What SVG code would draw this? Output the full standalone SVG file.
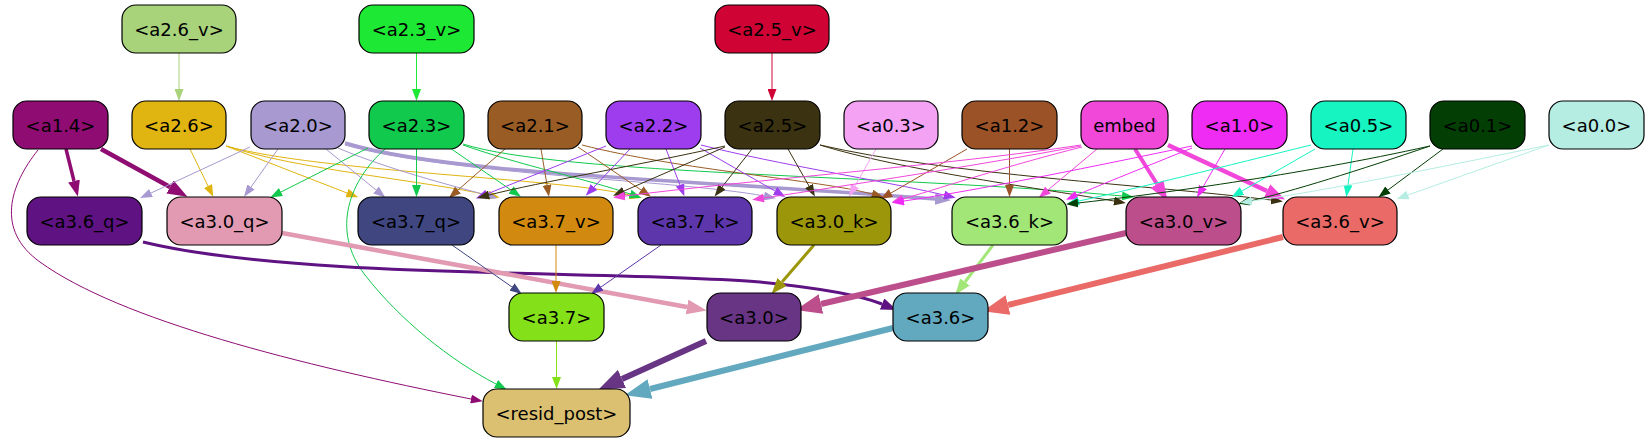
<svg xmlns="http://www.w3.org/2000/svg" width="1648" height="443" viewBox="0 0 1648 443">
<style>
.n rect{stroke:#000;stroke-width:1.2}
.n text{font-family:"DejaVu Sans","Liberation Sans",sans-serif;font-size:18px;text-anchor:middle;fill:#000}
.e path{fill:none}
</style>
<defs>
<marker id="t-a26v" viewBox="0 0 10 10" refX="0" refY="5" markerWidth="12" markerHeight="9" markerUnits="userSpaceOnUse" orient="auto" preserveAspectRatio="none"><path d="M0,0L10,5L0,10z" fill="#a8d37b"/></marker>
<marker id="t-a23v" viewBox="0 0 10 10" refX="0" refY="5" markerWidth="12" markerHeight="9" markerUnits="userSpaceOnUse" orient="auto" preserveAspectRatio="none"><path d="M0,0L10,5L0,10z" fill="#1de834"/></marker>
<marker id="t-a25v" viewBox="0 0 10 10" refX="0" refY="5" markerWidth="12" markerHeight="9" markerUnits="userSpaceOnUse" orient="auto" preserveAspectRatio="none"><path d="M0,0L10,5L0,10z" fill="#cf0434"/></marker>
<marker id="t-a14" viewBox="0 0 10 10" refX="0" refY="5" markerWidth="12" markerHeight="9" markerUnits="userSpaceOnUse" orient="auto" preserveAspectRatio="none"><path d="M0,0L10,5L0,10z" fill="#8f0d73"/></marker>
<marker id="t-a26" viewBox="0 0 10 10" refX="0" refY="5" markerWidth="12" markerHeight="9" markerUnits="userSpaceOnUse" orient="auto" preserveAspectRatio="none"><path d="M0,0L10,5L0,10z" fill="#e0b511"/></marker>
<marker id="t-a20" viewBox="0 0 10 10" refX="0" refY="5" markerWidth="12" markerHeight="9" markerUnits="userSpaceOnUse" orient="auto" preserveAspectRatio="none"><path d="M0,0L10,5L0,10z" fill="#a899d1"/></marker>
<marker id="t-a23" viewBox="0 0 10 10" refX="0" refY="5" markerWidth="12" markerHeight="9" markerUnits="userSpaceOnUse" orient="auto" preserveAspectRatio="none"><path d="M0,0L10,5L0,10z" fill="#11c94c"/></marker>
<marker id="t-a21" viewBox="0 0 10 10" refX="0" refY="5" markerWidth="12" markerHeight="9" markerUnits="userSpaceOnUse" orient="auto" preserveAspectRatio="none"><path d="M0,0L10,5L0,10z" fill="#9a5c25"/></marker>
<marker id="t-a22" viewBox="0 0 10 10" refX="0" refY="5" markerWidth="12" markerHeight="9" markerUnits="userSpaceOnUse" orient="auto" preserveAspectRatio="none"><path d="M0,0L10,5L0,10z" fill="#9d3dee"/></marker>
<marker id="t-a25" viewBox="0 0 10 10" refX="0" refY="5" markerWidth="12" markerHeight="9" markerUnits="userSpaceOnUse" orient="auto" preserveAspectRatio="none"><path d="M0,0L10,5L0,10z" fill="#3b3211"/></marker>
<marker id="t-a03" viewBox="0 0 10 10" refX="0" refY="5" markerWidth="12" markerHeight="9" markerUnits="userSpaceOnUse" orient="auto" preserveAspectRatio="none"><path d="M0,0L10,5L0,10z" fill="#f3a2f4"/></marker>
<marker id="t-a12" viewBox="0 0 10 10" refX="0" refY="5" markerWidth="12" markerHeight="9" markerUnits="userSpaceOnUse" orient="auto" preserveAspectRatio="none"><path d="M0,0L10,5L0,10z" fill="#9c5227"/></marker>
<marker id="t-emb" viewBox="0 0 10 10" refX="0" refY="5" markerWidth="12" markerHeight="9" markerUnits="userSpaceOnUse" orient="auto" preserveAspectRatio="none"><path d="M0,0L10,5L0,10z" fill="#f148da"/></marker>
<marker id="t-a10" viewBox="0 0 10 10" refX="0" refY="5" markerWidth="12" markerHeight="9" markerUnits="userSpaceOnUse" orient="auto" preserveAspectRatio="none"><path d="M0,0L10,5L0,10z" fill="#ef2cf4"/></marker>
<marker id="t-a05" viewBox="0 0 10 10" refX="0" refY="5" markerWidth="12" markerHeight="9" markerUnits="userSpaceOnUse" orient="auto" preserveAspectRatio="none"><path d="M0,0L10,5L0,10z" fill="#16f4c1"/></marker>
<marker id="t-a01" viewBox="0 0 10 10" refX="0" refY="5" markerWidth="12" markerHeight="9" markerUnits="userSpaceOnUse" orient="auto" preserveAspectRatio="none"><path d="M0,0L10,5L0,10z" fill="#033f04"/></marker>
<marker id="t-a00" viewBox="0 0 10 10" refX="0" refY="5" markerWidth="12" markerHeight="9" markerUnits="userSpaceOnUse" orient="auto" preserveAspectRatio="none"><path d="M0,0L10,5L0,10z" fill="#b5ede2"/></marker>
<marker id="t-q37" viewBox="0 0 10 10" refX="0" refY="5" markerWidth="12" markerHeight="9" markerUnits="userSpaceOnUse" orient="auto" preserveAspectRatio="none"><path d="M0,0L10,5L0,10z" fill="#3f4680"/></marker>
<marker id="t-v37" viewBox="0 0 10 10" refX="0" refY="5" markerWidth="12" markerHeight="9" markerUnits="userSpaceOnUse" orient="auto" preserveAspectRatio="none"><path d="M0,0L10,5L0,10z" fill="#d18a0f"/></marker>
<marker id="t-k37" viewBox="0 0 10 10" refX="0" refY="5" markerWidth="12" markerHeight="9" markerUnits="userSpaceOnUse" orient="auto" preserveAspectRatio="none"><path d="M0,0L10,5L0,10z" fill="#5c36aa"/></marker>
<marker id="t-n37" viewBox="0 0 10 10" refX="0" refY="5" markerWidth="12" markerHeight="9" markerUnits="userSpaceOnUse" orient="auto" preserveAspectRatio="none"><path d="M0,0L10,5L0,10z" fill="#84e119"/></marker>
<marker id="m-a14" viewBox="0 0 10 10" refX="0" refY="5" markerWidth="16" markerHeight="12" markerUnits="userSpaceOnUse" orient="auto" preserveAspectRatio="none"><path d="M0,0L10,5L0,10z" fill="#8f0d73"/></marker>
<marker id="m-a20" viewBox="0 0 10 10" refX="0" refY="5" markerWidth="16" markerHeight="12" markerUnits="userSpaceOnUse" orient="auto" preserveAspectRatio="none"><path d="M0,0L10,5L0,10z" fill="#a899d1"/></marker>
<marker id="m-q36" viewBox="0 0 10 10" refX="0" refY="5" markerWidth="16" markerHeight="12" markerUnits="userSpaceOnUse" orient="auto" preserveAspectRatio="none"><path d="M0,0L10,5L0,10z" fill="#5f1282"/></marker>
<marker id="m-k30" viewBox="0 0 10 10" refX="0" refY="5" markerWidth="16" markerHeight="12" markerUnits="userSpaceOnUse" orient="auto" preserveAspectRatio="none"><path d="M0,0L10,5L0,10z" fill="#9b960a"/></marker>
<marker id="m-k36" viewBox="0 0 10 10" refX="0" refY="5" markerWidth="16" markerHeight="12" markerUnits="userSpaceOnUse" orient="auto" preserveAspectRatio="none"><path d="M0,0L10,5L0,10z" fill="#a1e677"/></marker>
<marker id="h-a14" viewBox="0 0 10 10" refX="0" refY="5" markerWidth="20" markerHeight="15" markerUnits="userSpaceOnUse" orient="auto" preserveAspectRatio="none"><path d="M0,0L10,5L0,10z" fill="#8f0d73"/></marker>
<marker id="h-emb" viewBox="0 0 10 10" refX="0" refY="5" markerWidth="20" markerHeight="15" markerUnits="userSpaceOnUse" orient="auto" preserveAspectRatio="none"><path d="M0,0L10,5L0,10z" fill="#f148da"/></marker>
<marker id="h-q30" viewBox="0 0 10 10" refX="0" refY="5" markerWidth="20" markerHeight="15" markerUnits="userSpaceOnUse" orient="auto" preserveAspectRatio="none"><path d="M0,0L10,5L0,10z" fill="#e19ab1"/></marker>
<marker id="x-v30" viewBox="0 0 10 10" refX="0" refY="5" markerWidth="26" markerHeight="20" markerUnits="userSpaceOnUse" orient="auto" preserveAspectRatio="none"><path d="M0,0L10,5L0,10z" fill="#bb4e8b"/></marker>
<marker id="x-v36" viewBox="0 0 10 10" refX="0" refY="5" markerWidth="26" markerHeight="20" markerUnits="userSpaceOnUse" orient="auto" preserveAspectRatio="none"><path d="M0,0L10,5L0,10z" fill="#e96a66"/></marker>
<marker id="x-n30" viewBox="0 0 10 10" refX="0" refY="5" markerWidth="26" markerHeight="20" markerUnits="userSpaceOnUse" orient="auto" preserveAspectRatio="none"><path d="M0,0L10,5L0,10z" fill="#683584"/></marker>
<marker id="x-n36" viewBox="0 0 10 10" refX="0" refY="5" markerWidth="26" markerHeight="20" markerUnits="userSpaceOnUse" orient="auto" preserveAspectRatio="none"><path d="M0,0L10,5L0,10z" fill="#62a9bf"/></marker>
</defs>
<rect width="1648" height="443" fill="#fff"/>
<g id="connectors" class="e">
<path d="M179,53L179,89" stroke="#a8d37b" marker-end="url(#t-a26v)"/>
<path d="M416.5,53L416.5,89" stroke="#1de834" marker-end="url(#t-a23v)"/>
<path d="M772,53L772,89" stroke="#cf0434" marker-end="url(#t-a25v)"/>
<path d="M66,149L74,181" stroke="#8f0d73" stroke-width="3.5" marker-end="url(#m-a14)"/>
<path d="M101,149L170,187" stroke="#8f0d73" stroke-width="4.5" marker-end="url(#h-a14)"/>
<path d="M38,150C10,185 -5,230 40,262C120,320 300,365 471,399" stroke="#8f0d73" marker-end="url(#t-a14)"/>
<path d="M190,149L208,186" stroke="#e0b511" marker-end="url(#t-a26)"/>
<path d="M226,146L347,193" stroke="#e0b511" marker-end="url(#t-a26)"/>
<path d="M226,146C300,170 420,180 488,195" stroke="#e0b511" marker-end="url(#t-a26)"/>
<path d="M226,146C320,172 560,178 630,195" stroke="#e0b511" marker-end="url(#t-a26)"/>
<path d="M250,147L151,193" stroke="#a899d1" marker-end="url(#t-a20)"/>
<path d="M278,149L251,187" stroke="#a899d1" marker-end="url(#t-a20)"/>
<path d="M326,149L376,190" stroke="#a899d1" marker-end="url(#t-a20)"/>
<path d="M338,148C390,170 450,185 486,195" stroke="#a899d1" marker-end="url(#t-a20)"/>
<path d="M345,145C450,175 680,180 764,196" stroke="#a899d1" marker-end="url(#t-a20)"/>
<path d="M345,143C450,175 700,180 935,199" stroke="#a899d1" stroke-width="3.5" marker-end="url(#m-a20)"/>
<path d="M368,148L281,192" stroke="#11c94c" marker-end="url(#t-a23)"/>
<path d="M416.5,149L416.5,185" stroke="#11c94c" marker-end="url(#t-a23)"/>
<path d="M385,149C350,180 330,230 365,275C400,320 450,360 496,384" stroke="#11c94c" marker-end="url(#t-a23)"/>
<path d="M450,148L511,190" stroke="#11c94c" marker-end="url(#t-a23)"/>
<path d="M463,145C520,165 590,180 630,194" stroke="#11c94c" marker-end="url(#t-a23)"/>
<path d="M463,144C560,175 900,175 1122,196" stroke="#11c94c" marker-end="url(#t-a23)"/>
<path d="M505,149L458,190" stroke="#9a5c25" marker-end="url(#t-a21)"/>
<path d="M541,149L547,185" stroke="#9a5c25" marker-end="url(#t-a21)"/>
<path d="M578,147L641,190" stroke="#9a5c25" marker-end="url(#t-a21)"/>
<path d="M582,145C680,170 820,180 872,194" stroke="#9a5c25" marker-end="url(#t-a21)"/>
<path d="M606,146L487,194" stroke="#9d3dee" marker-end="url(#t-a22)"/>
<path d="M630,149L594,187" stroke="#9d3dee" marker-end="url(#t-a22)"/>
<path d="M666,149L680,185" stroke="#9d3dee" marker-end="url(#t-a22)"/>
<path d="M700,148L775,191" stroke="#9d3dee" marker-end="url(#t-a22)"/>
<path d="M701,145C780,165 880,180 944,195" stroke="#9d3dee" marker-end="url(#t-a22)"/>
<path d="M725,146C640,165 540,182 489,195" stroke="#3b3211" marker-end="url(#t-a25)"/>
<path d="M725,147L624,191" stroke="#3b3211" marker-end="url(#t-a25)"/>
<path d="M752,149L722,187" stroke="#3b3211" marker-end="url(#t-a25)"/>
<path d="M788,149L809,186" stroke="#3b3211" marker-end="url(#t-a25)"/>
<path d="M820,145C900,170 1050,190 1114,201" stroke="#3b3211" marker-end="url(#t-a25)"/>
<path d="M820,145C950,175 1150,185 1271,200" stroke="#3b3211" marker-end="url(#t-a25)"/>
<path d="M876,149L855,186" stroke="#f3a2f4" marker-end="url(#t-a03)"/>
<path d="M967,149L891,193" stroke="#9c5227" marker-end="url(#t-a12)"/>
<path d="M1009.5,149L1009.5,185" stroke="#9c5227" marker-end="url(#t-a12)"/>
<path d="M1081,145C950,165 750,180 625,196" stroke="#f148da" marker-end="url(#t-emb)"/>
<path d="M1081,146C980,165 850,185 764,198" stroke="#f148da" marker-end="url(#t-emb)"/>
<path d="M1082,147C1010,165 950,185 903,199" stroke="#f148da" marker-end="url(#t-emb)"/>
<path d="M1097,149L1048,190" stroke="#f148da" marker-end="url(#t-emb)"/>
<path d="M1135,149L1157,184" stroke="#f148da" stroke-width="4" marker-end="url(#h-emb)"/>
<path d="M1168,145L1267,191" stroke="#f148da" stroke-width="4.5" marker-end="url(#h-emb)"/>
<path d="M1192,146C1100,165 980,190 904,201" stroke="#ef2cf4" marker-end="url(#t-a10)"/>
<path d="M1192,148C1150,165 1100,185 1077,195" stroke="#ef2cf4" marker-end="url(#t-a10)"/>
<path d="M1225,149L1203,187" stroke="#ef2cf4" marker-end="url(#t-a10)"/>
<path d="M1315,149L1242,191" stroke="#16f4c1" marker-end="url(#t-a05)"/>
<path d="M1353,149L1348,185" stroke="#16f4c1" marker-end="url(#t-a05)"/>
<path d="M1311,145C1230,165 1130,190 1079,201" stroke="#16f4c1" marker-end="url(#t-a05)"/>
<path d="M1430,146C1300,175 1150,195 1078,203" stroke="#033f04" marker-end="url(#t-a01)"/>
<path d="M1430,146C1360,170 1290,192 1250,201" stroke="#033f04" marker-end="url(#t-a01)"/>
<path d="M1443,149L1388,190" stroke="#033f04" marker-end="url(#t-a01)"/>
<path d="M1549,145C1450,165 1330,190 1252,201" stroke="#b5ede2" marker-end="url(#t-a00)"/>
<path d="M1549,145L1408,195" stroke="#b5ede2" marker-end="url(#t-a00)"/>
<path d="M143,242C300,280 620,270 760,282C820,288 860,295 882,304" stroke="#5f1282" stroke-width="3" marker-end="url(#m-q36)"/>
<path d="M282,233L687,307" stroke="#e19ab1" stroke-width="4.5" marker-end="url(#h-q30)"/>
<path d="M452,245L512,287" stroke="#3f4680" marker-end="url(#t-q37)"/>
<path d="M556,245L556,281" stroke="#d18a0f" marker-end="url(#t-v37)"/>
<path d="M661,245L601,287" stroke="#5c36aa" marker-end="url(#t-k37)"/>
<path d="M814,245L782,282" stroke="#9b960a" stroke-width="3" marker-end="url(#m-k30)"/>
<path d="M993,245L965,282" stroke="#a1e677" stroke-width="3" marker-end="url(#m-k36)"/>
<path d="M1126,233L821,304" stroke="#bb4e8b" stroke-width="6" marker-end="url(#x-v30)"/>
<path d="M1283,237L1008,305" stroke="#e96a66" stroke-width="6" marker-end="url(#x-v36)"/>
<path d="M556.5,341L556.5,377" stroke="#84e119" marker-end="url(#t-n37)"/>
<path d="M706,341L622,379" stroke="#683584" stroke-width="6" marker-end="url(#x-n30)"/>
<path d="M893,328L650,389" stroke="#62a9bf" stroke-width="6" marker-end="url(#x-n36)"/>
</g>
<g id="a2.6_v" class="n"><rect x="122" y="5" width="114" height="48" rx="14" fill="#a8d37b"/><text x="179" y="35.5">&lt;a2.6_v&gt;</text></g>
<g id="a2.3_v" class="n"><rect x="359" y="5" width="115" height="48" rx="14" fill="#1de834"/><text x="416.5" y="35.5">&lt;a2.3_v&gt;</text></g>
<g id="a2.5_v" class="n"><rect x="715" y="5" width="114" height="48" rx="14" fill="#cf0434"/><text x="772" y="35.5">&lt;a2.5_v&gt;</text></g>
<g id="a1.4" class="n"><rect x="13" y="101" width="95" height="48" rx="14" fill="#8f0d73"/><text x="60.5" y="131.5">&lt;a1.4&gt;</text></g>
<g id="a2.6" class="n"><rect x="132" y="101" width="94" height="48" rx="14" fill="#e0b511"/><text x="179" y="131.5">&lt;a2.6&gt;</text></g>
<g id="a2.0" class="n"><rect x="251" y="101" width="94" height="48" rx="14" fill="#a899d1"/><text x="298" y="131.5">&lt;a2.0&gt;</text></g>
<g id="a2.3" class="n"><rect x="369" y="101" width="95" height="48" rx="14" fill="#11c94c"/><text x="416.5" y="131.5">&lt;a2.3&gt;</text></g>
<g id="a2.1" class="n"><rect x="488" y="101" width="94" height="48" rx="14" fill="#9a5c25"/><text x="535" y="131.5">&lt;a2.1&gt;</text></g>
<g id="a2.2" class="n"><rect x="606" y="101" width="95" height="48" rx="14" fill="#9d3dee"/><text x="653.5" y="131.5">&lt;a2.2&gt;</text></g>
<g id="a2.5" class="n"><rect x="725" y="101" width="95" height="48" rx="14" fill="#3b3211"/><text x="772.5" y="131.5">&lt;a2.5&gt;</text></g>
<g id="a0.3" class="n"><rect x="844" y="101" width="94" height="48" rx="14" fill="#f3a2f4"/><text x="891" y="131.5">&lt;a0.3&gt;</text></g>
<g id="a1.2" class="n"><rect x="962" y="101" width="95" height="48" rx="14" fill="#9c5227"/><text x="1009.5" y="131.5">&lt;a1.2&gt;</text></g>
<g id="embed" class="n"><rect x="1081" y="101" width="87" height="48" rx="14" fill="#f148da"/><text x="1124.5" y="131.5">embed</text></g>
<g id="a1.0" class="n"><rect x="1192" y="101" width="95" height="48" rx="14" fill="#ef2cf4"/><text x="1239.5" y="131.5">&lt;a1.0&gt;</text></g>
<g id="a0.5" class="n"><rect x="1311" y="101" width="95" height="48" rx="14" fill="#16f4c1"/><text x="1358.5" y="131.5">&lt;a0.5&gt;</text></g>
<g id="a0.1" class="n"><rect x="1430" y="101" width="95" height="48" rx="14" fill="#033f04"/><text x="1477.5" y="131.5">&lt;a0.1&gt;</text></g>
<g id="a0.0" class="n"><rect x="1549" y="101" width="95" height="48" rx="14" fill="#b5ede2"/><text x="1596.5" y="131.5">&lt;a0.0&gt;</text></g>
<g id="a3.6_q" class="n"><rect x="27" y="197" width="115" height="48" rx="14" fill="#5f1282"/><text x="84.5" y="227.5">&lt;a3.6_q&gt;</text></g>
<g id="a3.0_q" class="n"><rect x="167" y="197" width="115" height="48" rx="14" fill="#e19ab1"/><text x="224.5" y="227.5">&lt;a3.0_q&gt;</text></g>
<g id="a3.7_q" class="n"><rect x="358" y="197" width="116" height="48" rx="14" fill="#3f4680"/><text x="416" y="227.5">&lt;a3.7_q&gt;</text></g>
<g id="a3.7_v" class="n"><rect x="499" y="197" width="114" height="48" rx="14" fill="#d18a0f"/><text x="556" y="227.5">&lt;a3.7_v&gt;</text></g>
<g id="a3.7_k" class="n"><rect x="638" y="197" width="114" height="48" rx="14" fill="#5c36aa"/><text x="695" y="227.5">&lt;a3.7_k&gt;</text></g>
<g id="a3.0_k" class="n"><rect x="777" y="197" width="114" height="48" rx="14" fill="#9b960a"/><text x="834" y="227.5">&lt;a3.0_k&gt;</text></g>
<g id="a3.6_k" class="n"><rect x="952" y="197" width="115" height="48" rx="14" fill="#a1e677"/><text x="1009.5" y="227.5">&lt;a3.6_k&gt;</text></g>
<g id="a3.0_v" class="n"><rect x="1126" y="197" width="115" height="48" rx="14" fill="#bb4e8b"/><text x="1183.5" y="227.5">&lt;a3.0_v&gt;</text></g>
<g id="a3.6_v" class="n"><rect x="1283" y="197" width="114" height="48" rx="14" fill="#e96a66"/><text x="1340" y="227.5">&lt;a3.6_v&gt;</text></g>
<g id="a3.7" class="n"><rect x="509" y="293" width="95" height="48" rx="14" fill="#84e119"/><text x="556.5" y="323.5">&lt;a3.7&gt;</text></g>
<g id="a3.0" class="n"><rect x="707" y="293" width="94" height="48" rx="14" fill="#683584"/><text x="754" y="323.5">&lt;a3.0&gt;</text></g>
<g id="a3.6" class="n"><rect x="893" y="293" width="95" height="48" rx="14" fill="#62a9bf"/><text x="940.5" y="323.5">&lt;a3.6&gt;</text></g>
<g id="resid_post" class="n"><rect x="483" y="389" width="147" height="48" rx="14" fill="#dbc071"/><text x="556.5" y="419.5">&lt;resid_post&gt;</text></g>
</svg>
